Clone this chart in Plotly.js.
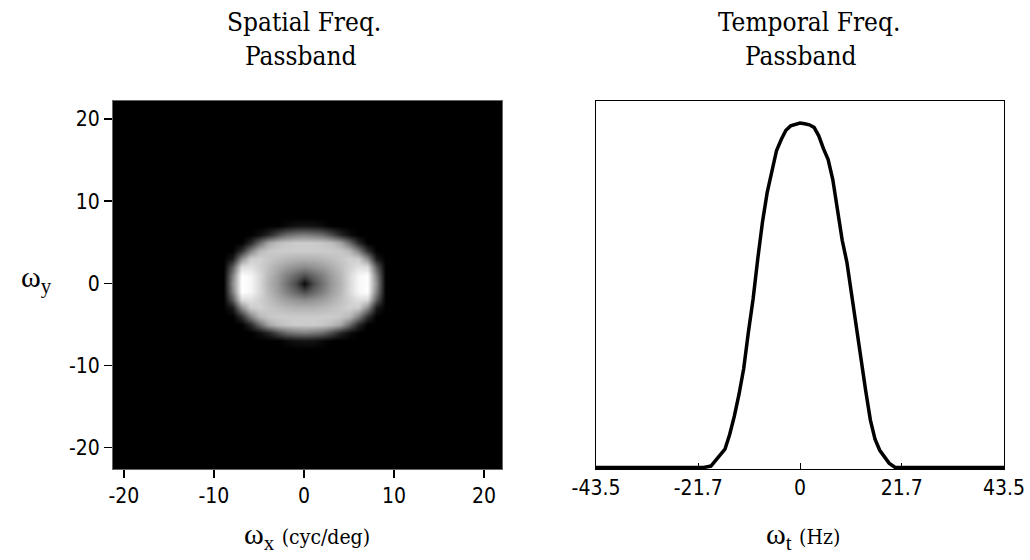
<!DOCTYPE html>
<html><head><meta charset="utf-8">
<script src="https://cdn.plot.ly/plotly-3.0.1.min.js"></script>
<style>html,body{margin:0;padding:0;background:#fff}</style>
</head><body>
<div id="chart" style="width:1030px;height:560px"></div>
<script>
// Spatial passband grid (cyc/deg)
const spatialX = [-10,-9,-8,-7,-6,-5,-4,-3,-2,-1,0,1,2,3,4,5,6,7,8,9,10];
const spatialY = [-8,-7,-6,-5,-4,-3,-2,-1,0,1,2,3,4,5,6,7,8];
const spatialZ = [
  [0,0,0,0,0,0,0,0,0,0,0,0,0,0,0,0,0,0,0,0,0],
  [0,0,0,0,0,0,0,0,0.04,0.07,0.08,0.07,0.04,0,0,0,0,0,0,0,0],
  [0,0,0,0,0,0.05,0.15,0.3,0.42,0.47,0.5,0.47,0.42,0.3,0.15,0.05,0,0,0,0,0],
  [0,0,0,0,0.15,0.42,0.65,0.74,0.78,0.8,0.8,0.8,0.78,0.74,0.65,0.42,0.15,0,0,0,0],
  [0,0,0,0.18,0.5,0.72,0.78,0.8,0.8,0.8,0.8,0.8,0.8,0.8,0.78,0.72,0.5,0.18,0,0,0],
  [0,0,0.1,0.55,0.8,0.82,0.78,0.75,0.72,0.7,0.7,0.7,0.72,0.75,0.78,0.82,0.8,0.55,0.1,0,0],
  [0,0,0.35,0.86,0.88,0.82,0.75,0.68,0.62,0.58,0.55,0.58,0.62,0.68,0.75,0.82,0.88,0.86,0.35,0,0],
  [0,0,0.5,1.0,0.97,0.85,0.72,0.62,0.5,0.4,0.3,0.4,0.5,0.62,0.72,0.85,0.97,1.0,0.5,0,0],
  [0,0,0.55,1.0,0.97,0.85,0.7,0.6,0.45,0.3,0.04,0.3,0.45,0.6,0.7,0.85,0.97,1.0,0.55,0,0],
  [0,0,0.5,1.0,0.97,0.85,0.72,0.62,0.5,0.4,0.3,0.4,0.5,0.62,0.72,0.85,0.97,1.0,0.5,0,0],
  [0,0,0.35,0.86,0.88,0.82,0.75,0.68,0.62,0.58,0.55,0.58,0.62,0.68,0.75,0.82,0.88,0.86,0.35,0,0],
  [0,0,0.1,0.55,0.8,0.82,0.78,0.75,0.72,0.7,0.7,0.7,0.72,0.75,0.78,0.82,0.8,0.55,0.1,0,0],
  [0,0,0,0.18,0.5,0.72,0.78,0.8,0.8,0.8,0.8,0.8,0.8,0.8,0.78,0.72,0.5,0.18,0,0,0],
  [0,0,0,0,0.15,0.42,0.65,0.74,0.78,0.8,0.8,0.8,0.78,0.74,0.65,0.42,0.15,0,0,0,0],
  [0,0,0,0,0,0.05,0.15,0.3,0.42,0.47,0.5,0.47,0.42,0.3,0.15,0.05,0,0,0,0,0],
  [0,0,0,0,0,0,0,0,0.04,0.07,0.08,0.07,0.04,0,0,0,0,0,0,0,0],
  [0,0,0,0,0,0,0,0,0,0,0,0,0,0,0,0,0,0,0,0,0]
];
const spatialTicks = [-20,-10,0,10,20];
const spatialTickText = ['-20','-10','0','10','20'];

// Temporal passband (Hz)
const temporalX = [-43.5,-20.5,-19,-18,-17,-16,-15,-14,-13,-12,-11,-10,-9,-8,-7,-6,-5,-4,-3,-2,-1,0,1,2,3,4,5,6,7,8,9,10,11,12,13,14,15,16,17,18,19,20.3,43.5];
const temporalY = [0,0,0.004,0.02,0.035,0.05,0.09,0.14,0.2,0.27,0.37,0.46,0.57,0.67,0.75,0.81,0.865,0.895,0.92,0.932,0.937,0.94,0.938,0.935,0.928,0.905,0.87,0.84,0.785,0.7,0.62,0.56,0.47,0.38,0.3,0.21,0.13,0.077,0.047,0.03,0.012,0,0];
const temporalTicks = [-43.5,-21.7,0,21.7,43.5];
const temporalTickText = ['-43.5','-21.7','0','21.7','43.5'];

const tickFont = {family:'Liberation Sans Narrow, DejaVu Sans Condensed, Liberation Sans, sans-serif', size:21, color:'#000'};
const serif = 'DejaVu Serif Condensed, Liberation Serif, serif';
const greek = 'Liberation Serif, DejaVu Serif, serif';

const traces = [
  {type:'heatmap', x:spatialX, y:spatialY, z:spatialZ, zmin:0, zmax:1, zsmooth:'best',
   colorscale:[[0,'#000000'],[1,'#ffffff']], showscale:false, xaxis:'x', yaxis:'y', hoverinfo:'skip'},
  {type:'scatter', mode:'lines', x:temporalX, y:temporalY, line:{color:'#000', width:3.5},
   xaxis:'x2', yaxis:'y2', hoverinfo:'skip'}
];

const ydom = [(560-469)/560, (560-101)/560];
function ann(x, y, text, family, size){
  return {xref:'paper', yref:'paper', x:x/1030, y:1-y/560, xanchor:'center', yanchor:'middle',
          showarrow:false, text:text, font:{family:family, size:size, color:'#000'}};
}
const layout = {
  width:1030, height:560, showlegend:false,
  margin:{l:0,r:0,t:0,b:0},
  paper_bgcolor:'#fff', plot_bgcolor:'#000',
  xaxis:{domain:[113/1030, 502/1030], range:[-21.2,22], tickvals:spatialTicks, ticktext:spatialTickText, ticks:'outside', ticklen:8, tickwidth:1.5, tickcolor:'#000',
         showgrid:false, zeroline:false, showline:true, linecolor:'#666', linewidth:1, mirror:true, tickfont:tickFont, anchor:'y'},
  yaxis:{domain:ydom, range:[-22.6,22.2], tickvals:spatialTicks, ticktext:spatialTickText, ticks:'outside', ticklen:8, tickwidth:1.5, tickcolor:'#000',
         showgrid:false, zeroline:false, showline:true, linecolor:'#666', linewidth:1, mirror:true, tickfont:tickFont, anchor:'x'},
  xaxis2:{domain:[596/1030, 1004/1030], range:[-43.5,43.5], tickvals:temporalTicks, ticktext:temporalTickText, ticks:'inside', ticklen:6, tickwidth:1, tickcolor:'#000',
         showgrid:false, zeroline:false, showline:true, linecolor:'#000', linewidth:1, mirror:true, tickfont:tickFont, anchor:'y2'},
  yaxis2:{domain:ydom, range:[-0.004,1.0], showticklabels:false, ticks:'', showgrid:false, zeroline:false,
         showline:true, linecolor:'#000', linewidth:1, mirror:true, anchor:'x2'},
  shapes:[
    {type:'rect', xref:'x2 domain', yref:'y2 domain', x0:0, x1:1, y0:0, y1:1, fillcolor:'#fff', line:{width:0}, layer:'below'}
  ],
  annotations:[
    ann(304, 22, 'Spatial Freq.', serif, 26),
    ann(300, 56, 'Passband', serif, 26),
    ann(809, 22, 'Temporal Freq.', serif, 26),
    ann(800, 56, 'Passband', serif, 26),
    ann(307, 536, 'ω<sub>x</sub> <span style="font-family:DejaVu Serif Condensed;font-size:21px">(cyc/deg)</span>', greek, 30),
    ann(803, 536, 'ω<sub>t</sub> <span style="font-family:DejaVu Serif Condensed;font-size:21px">(Hz)</span>', greek, 30),
    ann(36, 279, 'ω<sub>y</sub>', greek, 30)
  ]
};
Plotly.newPlot('chart', traces, layout, {displayModeBar:false, staticPlot:true});
</script>
</body></html>
